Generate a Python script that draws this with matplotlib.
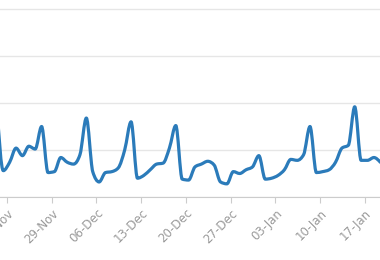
import datetime
import numpy as np
import matplotlib
matplotlib.use('Agg')
import matplotlib.pyplot as plt
import matplotlib.dates as mdates
from matplotlib.path import Path
from matplotlib.patches import PathPatch

# daily values, first point on 20-Nov
inicio = datetime.datetime(2020, 11, 20, 10)
valores = [98, 28, 37, 52, 44, 54, 51, 75, 26, 27, 42, 37, 35, 45, 84,
           27, 16, 26, 27, 31, 50, 80, 20, 23, 29, 35, 36, 52, 76, 19,
           18, 32, 35, 38, 34, 16, 14, 27, 25, 29, 32, 44, 19, 20, 23,
           29, 40, 39, 45, 75, 26, 27, 29, 37, 52, 55, 96, 39, 39, 42, 37]
fechas = [inicio + datetime.timedelta(days=i) for i in range(len(valores))]

# weekly ticks
ticks = [datetime.datetime(2020, 11, 22) + datetime.timedelta(days=7 * k) for k in range(9)]
ticks_y = [0, 50, 100, 150, 200]


def curva_monotona(x, y):
    # monotone cubic (like d3 curveMonotoneX) as bezier path
    x = np.asarray(x, float)
    y = np.asarray(y, float)
    n = len(x)
    h = np.diff(x)
    s = np.diff(y) / h
    t = np.zeros(n)
    for i in range(1, n - 1):
        p = (s[i - 1] * h[i] + s[i] * h[i - 1]) / (h[i - 1] + h[i])
        t[i] = (np.sign(s[i - 1]) + np.sign(s[i])) * min(abs(s[i - 1]), abs(s[i]), 0.5 * abs(p))
    t[0] = (3 * s[0] - t[1]) / 2
    t[-1] = (3 * s[-1] - t[-2]) / 2
    verts = [(x[0], y[0])]
    codes = [Path.MOVETO]
    for i in range(n - 1):
        dx = h[i] / 3
        verts += [(x[i] + dx, y[i] + dx * t[i]),
                  (x[i + 1] - dx, y[i + 1] - dx * t[i + 1]),
                  (x[i + 1], y[i + 1])]
        codes += [Path.CURVE4] * 3
    return Path(verts, codes)


fig = plt.figure(figsize=(3.8, 2.6), dpi=100)
ax = fig.add_axes([0, 63 / 260, 1, 197 / 260])

xs = mdates.date2num(fechas)
ax.add_patch(PathPatch(curva_monotona(xs, valores), fill=False,
                       edgecolor='#2b7bba', lw=2.3, capstyle='round', joinstyle='round'))

ax.set_xticks(mdates.date2num(ticks))
ax.xaxis.set_major_formatter(mdates.DateFormatter('%d-%b'))
ax.set_yticks(ticks_y)

# limits after the ticks, so the ticks do not widen them
x0 = mdates.date2num(datetime.datetime(2020, 11, 22)) - 7 / 6.39
ax.set_xlim(x0, x0 + 380 / 6.39)
ax.set_ylim(0, 197 / 47 * 50)

ax.tick_params(axis='y', length=0, labelleft=False)
ax.tick_params(axis='x', length=4, color='#cccccc', labelcolor='#9a9a9a',
               labelsize=8.5, pad=3)
for lbl in ax.get_xticklabels():
    lbl.set_rotation(45)
    lbl.set_ha('right')
    lbl.set_rotation_mode('anchor')
ax.grid(axis='y', color='#e6e6e6', lw=1)
ax.set_axisbelow(True)
for lado in ['left', 'right', 'top']:
    ax.spines[lado].set_visible(False)
ax.spines['bottom'].set_color('#cccccc')

fig.savefig('out.png', dpi=100)
